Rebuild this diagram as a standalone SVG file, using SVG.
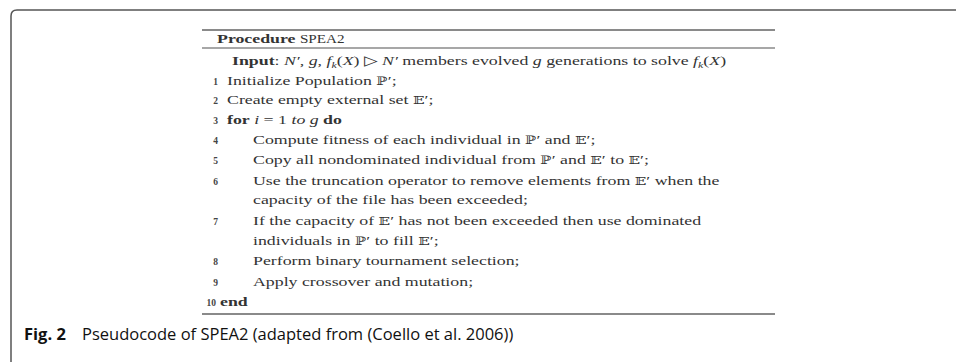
<svg xmlns="http://www.w3.org/2000/svg" width="956" height="362" viewBox="0 0 956 362">
<style>
.t{font-family:"Liberation Serif","DejaVu Serif",serif;font-size:13.5px;fill:#333}
.n{font-family:"Liberation Serif","DejaVu Serif",serif;font-size:9.5px;fill:#444;text-anchor:end;font-weight:bold}
.b{font-weight:bold}
.i{font-style:italic}
.bb{font-family:"DejaVu Serif",serif;font-size:11.5px}
.sub{font-size:9px;font-style:italic}
.sc{font-size:11.5px}
.cap{font-family:"Open Sans","Noto Sans",sans-serif;font-size:16.5px;fill:#111}
.rule{stroke:#8a8a8a;fill:none}
</style>
<rect width="956" height="362" fill="#fff"/>
<path d="M11,362 V16 Q11,10 17,10 H956" fill="none" stroke="#555" stroke-width="1.5"/>
<g id="table">
<line class="rule" x1="202" y1="30" x2="775" y2="30" stroke-width="2"/>
<line class="rule" x1="202" y1="48" x2="775" y2="48" stroke-width="1.5"/>
<line class="rule" x1="202" y1="314" x2="775" y2="314" stroke-width="2"/>
<text class="t" x="0" y="43" transform="translate(217,0) scale(1.32,1)"><tspan class="b">Procedure</tspan> <tspan class="sc">SPEA2</tspan></text>
<text class="t" x="0" y="65" transform="translate(232,0) scale(1.32,1)"><tspan class="b">Input</tspan>: <tspan class="i">N′</tspan>, <tspan class="i">g</tspan>, <tspan class="i">f</tspan><tspan class="sub" dy="3">k</tspan><tspan dy="-3">(</tspan><tspan class="i">X</tspan>) ▷ <tspan class="i">N′</tspan> members evolved <tspan class="i">g</tspan> generations to solve <tspan class="i">f</tspan><tspan class="sub" dy="3">k</tspan><tspan dy="-3">(</tspan><tspan class="i">X</tspan>)</text>
<text class="n" x="218" y="85">1</text>
<text class="t" x="0" y="85" transform="translate(227,0) scale(1.32,1)">Initialize Population <tspan class="bb">ℙ</tspan>′;</text>
<text class="n" x="218" y="104">2</text>
<text class="t" x="0" y="104" transform="translate(227,0) scale(1.32,1)">Create empty external set <tspan class="bb">𝔼</tspan>′;</text>
<text class="n" x="218" y="124">3</text>
<text class="t" x="0" y="124" transform="translate(227,0) scale(1.32,1)"><tspan class="b">for</tspan> <tspan class="i">i</tspan> = 1 <tspan class="i">to g</tspan> <tspan class="b">do</tspan></text>
<text class="n" x="218" y="144">4</text>
<text class="t" x="0" y="144" transform="translate(253,0) scale(1.32,1)">Compute fitness of each individual in <tspan class="bb">ℙ</tspan>′ and <tspan class="bb">𝔼</tspan>′;</text>
<text class="n" x="218" y="164">5</text>
<text class="t" x="0" y="164" transform="translate(253,0) scale(1.32,1)">Copy all nondominated individual from <tspan class="bb">ℙ</tspan>′ and <tspan class="bb">𝔼</tspan>′ to <tspan class="bb">𝔼</tspan>′;</text>
<text class="n" x="218" y="185">6</text>
<text class="t" x="0" y="185" transform="translate(253,0) scale(1.32,1)">Use the truncation operator to remove elements from <tspan class="bb">𝔼</tspan>′ when the</text>
<text class="t" x="0" y="204" transform="translate(253,0) scale(1.32,1)">capacity of the file has been exceeded;</text>
<text class="n" x="218" y="225">7</text>
<text class="t" x="0" y="225" transform="translate(253,0) scale(1.32,1)">If the capacity of <tspan class="bb">𝔼</tspan>′ has not been exceeded then use dominated</text>
<text class="t" x="0" y="245" transform="translate(253,0) scale(1.32,1)">individuals in <tspan class="bb">ℙ</tspan>′ to fill <tspan class="bb">𝔼</tspan>′;</text>
<text class="n" x="218" y="265">8</text>
<text class="t" x="0" y="265" transform="translate(253,0) scale(1.32,1)">Perform binary tournament selection;</text>
<text class="n" x="218" y="286">9</text>
<text class="t" x="0" y="286" transform="translate(253,0) scale(1.32,1)">Apply crossover and mutation;</text>
<text class="n" x="216" y="306">10</text>
<text class="t" x="0" y="306" transform="translate(220,0) scale(1.32,1)"><tspan class="b">end</tspan></text>
</g>
<g id="caption">
<text class="cap" x="24" y="340"><tspan font-weight="bold">Fig. 2</tspan><tspan x="82">Pseudocode of SPEA2 (adapted from (Coello et al. 2006))</tspan></text>
</g>
</svg>
